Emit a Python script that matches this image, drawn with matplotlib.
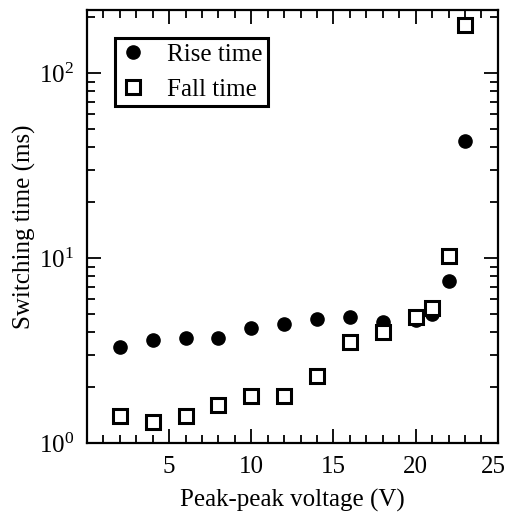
import matplotlib
matplotlib.use("Agg")
import matplotlib.pyplot as plt
from matplotlib.ticker import MultipleLocator, LogLocator, NullFormatter, FixedLocator
from matplotlib.transforms import ScaledTranslation

plt.rcParams['font.family'] = ['Liberation Serif', 'DejaVu Serif']
plt.rcParams['mathtext.fontset'] = 'custom'
plt.rcParams['mathtext.rm'] = 'Liberation Serif'
plt.rcParams['mathtext.it'] = 'Liberation Serif:italic'

voltage = [2, 4, 6, 8, 10, 12, 14, 16, 18, 20, 21, 22, 23]
rise_time = [3.3, 3.6, 3.7, 3.7, 4.2, 4.4, 4.7, 4.8, 4.5, 4.6, 5.0, 7.5, 43]
fall_time = [1.4, 1.3, 1.4, 1.6, 1.8, 1.8, 2.3, 3.5, 4.0, 4.8, 5.35, 10.3, 183]
x_ticks = [5, 10, 15, 20, 25]

fig = plt.figure(figsize=(5.08, 5.17), dpi=100)
ax = fig.add_axes([0.171, 0.143, 0.809, 0.838])

ax.plot(voltage, rise_time, 'o', color='black', markersize=9.5, label='Rise time', zorder=3)
ax.plot(voltage, fall_time, 's', markerfacecolor='white', markeredgecolor='black',
        markeredgewidth=2.2, markersize=9.5, label='Fall time', zorder=4)

ax.set_yscale('log')
ax.set_xlim(0, 25)
ax.set_ylim(1, 220)
ax.xaxis.set_major_locator(FixedLocator(x_ticks))
ax.xaxis.set_minor_locator(MultipleLocator(1))
ax.yaxis.set_major_locator(LogLocator(base=10))
ax.yaxis.set_minor_locator(LogLocator(base=10, subs=range(2, 10)))
ax.yaxis.set_minor_formatter(NullFormatter())

ax.tick_params(which='both', direction='in', top=True, right=True, width=1.3, labelsize=18)
ax.tick_params(which='major', length=10, pad=9)
ax.tick_params(which='minor', length=5.5)
for s in ax.spines.values():
    s.set_linewidth(1.6)

ax.set_xlabel('Peak-peak voltage (V)', fontsize=18, labelpad=8)
ax.set_ylabel('Switching time (ms)', fontsize=18, labelpad=2)

leg = ax.legend(loc='upper left', bbox_to_anchor=(0.068, 0.935), fontsize=18, frameon=True,
                fancybox=False, edgecolor='black', handletextpad=0.85, borderpad=0.22,
                labelspacing=0.5, handlelength=1.0, borderaxespad=0)
leg.get_frame().set_linewidth(2.2)
leg.get_frame().set_alpha(1)

# nudge the last x tick label slightly left so it stays inside the figure
last_tick = ax.xaxis.get_major_ticks()[-1]
last_tick.label1.set_transform(last_tick.label1.get_transform()
                               + ScaledTranslation(-4 / 100, 0, fig.dpi_scale_trans))

fig.savefig('out.png', dpi=100)
